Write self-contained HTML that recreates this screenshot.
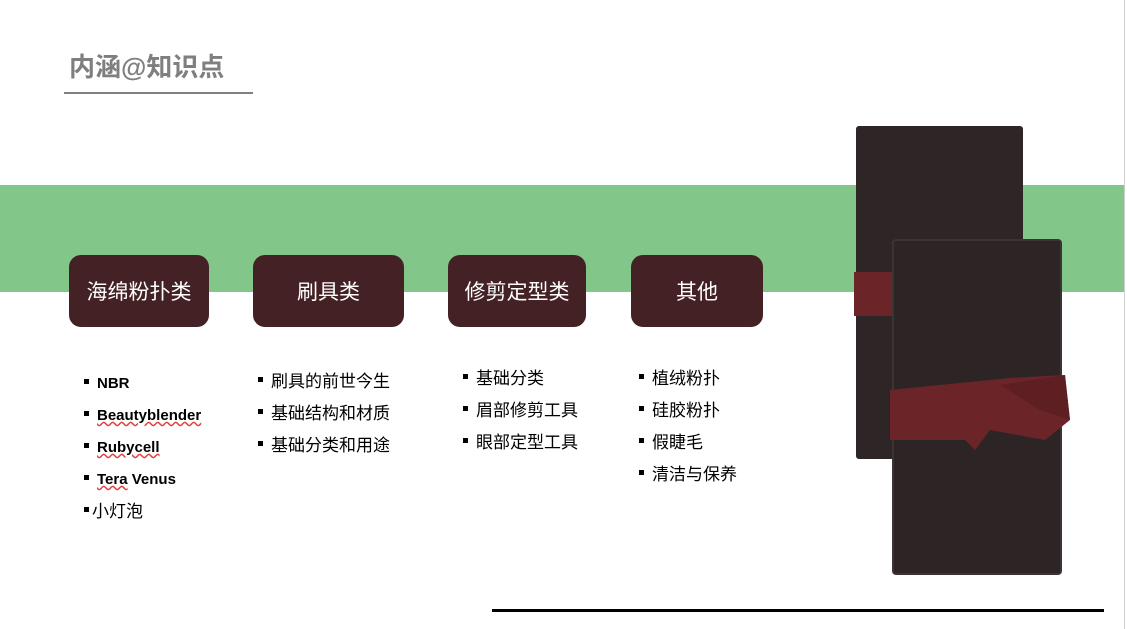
<!DOCTYPE html>
<html><head><meta charset="utf-8"><style>
body{margin:0;width:1127px;height:629px;overflow:hidden;background:#fff;position:relative;font-family:"Liberation Sans","Noto Sans CJK SC",sans-serif}
.a{position:absolute}
.box{position:absolute;top:255px;height:72px;background:#432124;border-radius:12px;color:#fff;font-size:21px;display:flex;align-items:center;justify-content:center}
.li{position:absolute;font-size:17px;color:#000;line-height:32px;white-space:nowrap}
.li span{display:inline-block;width:5px;height:5px;background:#000;margin-right:8px;vertical-align:middle;position:relative;top:-3px}
.en{font-weight:bold;font-size:15px}
</style></head><body>
<div class="a" style="left:69px;top:47px;font-size:26px;font-weight:bold;color:#7f7f7f;letter-spacing:0px">内涵@知识点</div>
<div class="a" style="left:64px;top:92px;width:189px;height:2px;background:#808080"></div>
<div class="a" style="left:0;top:185px;width:1124px;height:107px;background:#82c68a"></div>
<div class="a" style="left:1124px;top:0;width:1px;height:629px;background:#ccc"></div>

<div class="box" style="left:69px;width:140px">海绵粉扑类</div>
<div class="box" style="left:253px;width:151px">刷具类</div>
<div class="box" style="left:448px;width:138px">修剪定型类</div>
<div class="box" style="left:631px;width:132px">其他</div>

<div class="li" style="left:84px;top:368px">
<div class="en"><span></span>NBR</div>
<div class="en"><span></span><u style="text-decoration:underline wavy #e04040">Beautyblender</u></div>
<div class="en"><span></span><u style="text-decoration:underline wavy #e04040">Rubycell</u></div>
<div class="en"><span></span><u style="text-decoration:underline wavy #e04040">Tera</u> Venus</div>
<div><span style="margin-right:3px"></span>小灯泡</div>
</div>
<div class="li" style="left:258px;top:366px">
<div><span></span>刷具的前世今生</div>
<div><span></span>基础结构和材质</div>
<div><span></span>基础分类和用途</div>
</div>
<div class="li" style="left:463px;top:363px">
<div><span></span>基础分类</div>
<div><span></span>眉部修剪工具</div>
<div><span></span>眼部定型工具</div>
</div>
<div class="li" style="left:639px;top:363px">
<div><span></span>植绒粉扑</div>
<div><span></span>硅胶粉扑</div>
<div><span></span>假睫毛</div>
<div><span></span>清洁与保养</div>
</div>

<svg class="a" style="left:840px;top:110px" width="284" height="480">
<rect x="16" y="16" width="167" height="333" rx="3" fill="#2e2626"/>
<rect x="14" y="162" width="40" height="44" fill="#6b2529"/>
<rect x="53" y="130" width="168" height="334" rx="3" fill="#2d2525"/>
<rect x="53" y="130" width="168" height="334" rx="3" fill="none" stroke="#3c3333" stroke-width="2"/>
<path d="M50 280 L170 268 L225 265 L230 310 L205 330 L150 320 L135 340 L125 330 L50 330 Z" fill="#6b2529"/>
<path d="M160 275 L225 265 L230 310 L200 300 Z" fill="#5e1f23"/>
</svg>

<div class="a" style="left:492px;top:609px;width:612px;height:3px;background:#000"></div>
</body></html>
